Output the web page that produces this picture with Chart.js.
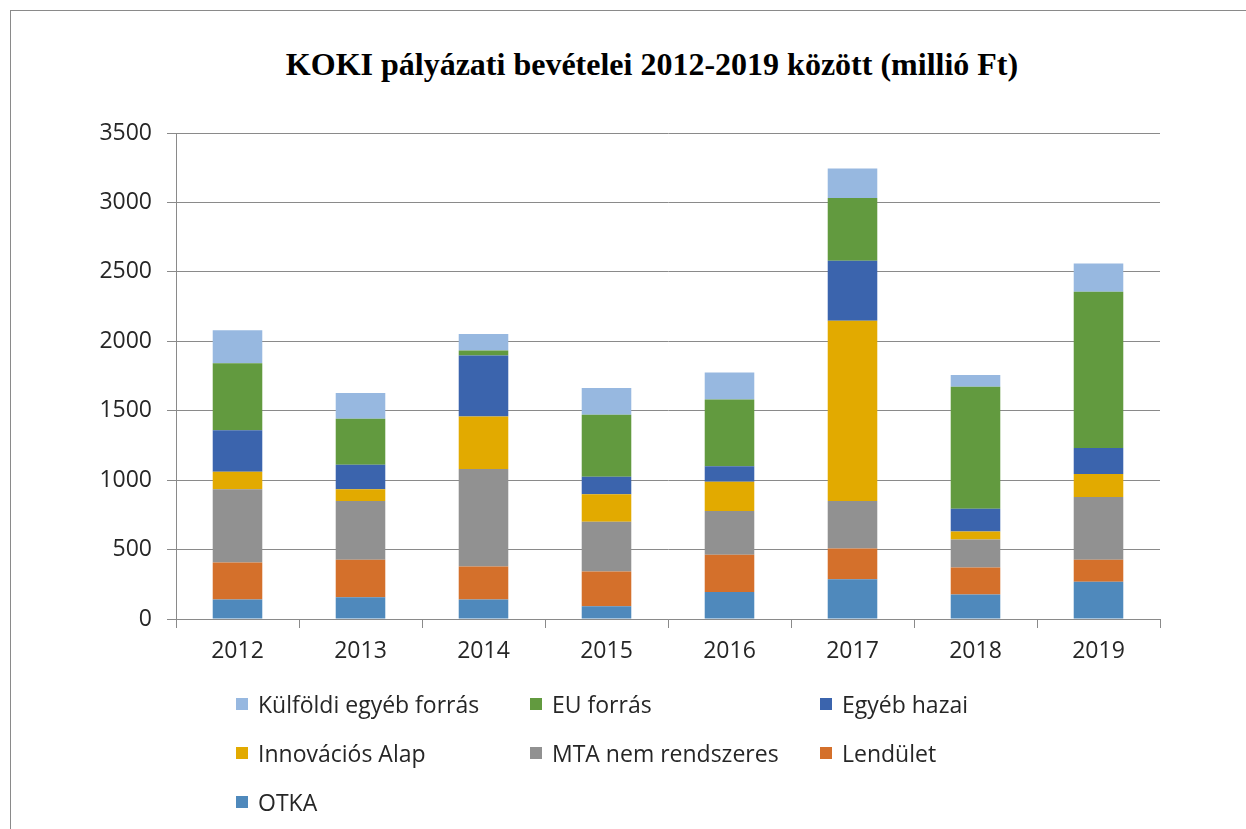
<!DOCTYPE html>
<html>
<head>
<meta charset="utf-8">
<script src="https://cdn.jsdelivr.net/npm/chart.js@4"></script>
<style>
  html, body { margin: 0; padding: 0; background: #fff; overflow: hidden; }
  #page { position: relative; width: 1246px; height: 829px; }
  #frame { position: absolute; left: 10px; top: 10px; width: 1236px; height: 819px;
           border-top: 1px solid #8a8a8a; border-left: 1px solid #8a8a8a; box-sizing: border-box; }
  #title { position: absolute; left: 152px; width: 1000px; top: 48px; text-align: center;
           font: bold 32px "Liberation Serif", serif; line-height: 32px; color: #000; white-space: nowrap; }
  #wrap { position: absolute; left: 0; top: 0; width: 1246px; height: 829px; }
  #legend { position: absolute; left: 236px; top: 679px; display: grid;
            grid-template-columns: 294px 290px auto; }
  .item { display: flex; align-items: center; height: 49px; line-height: 49px;
          font: 23px "Open Sans", sans-serif; color: #262626; white-space: nowrap; }
  .box { width: 12px; height: 12px; margin-right: 10px; }
</style>
</head>
<body>
<div id="page">
  <div id="frame"></div>
  <div id="title">KOKI pályázati bevételei 2012-2019 között (millió Ft)</div>
  <div id="wrap"><canvas id="chartCanvas"></canvas></div>
  <div id="legend"></div>
</div>
<script>
  const years = ['2012', '2013', '2014', '2015', '2016', '2017', '2018', '2019'];

  const otka        = [140, 157, 140,  92, 195,  286, 176,  269];
  const lendulet    = [267, 269, 238, 250, 267,  222, 195,  157];
  const mta         = [527, 424, 703, 358, 316,  342, 202,  453];
  const innovacios  = [127,  84, 377, 198, 211, 1297,  58,  166];
  const egyebHazai  = [299, 176, 439, 127, 111,  433, 163,  187];
  const euForras    = [481, 332,  36, 446, 481,  452, 879, 1125];
  const kulfoldi    = [239, 185, 120, 192, 195,  213,  84,  204];

  const yTicks = [0, 500, 1000, 1500, 2000, 2500, 3000, 3500];

  const tickFont = { family: 'Open Sans', size: 23 };
  const textColor = '#262626';
  const gridColor = '#8a8a8a';

  const series = [
    { label: 'OTKA', data: otka, color: '#4f89bc' },
    { label: 'Lendület', data: lendulet, color: '#d4702b' },
    { label: 'MTA nem rendszeres', data: mta, color: '#919191' },
    { label: 'Innovációs Alap', data: innovacios, color: '#e2aa00' },
    { label: 'Egyéb hazai', data: egyebHazai, color: '#3b64ad' },
    { label: 'EU forrás', data: euForras, color: '#629a3f' },
    { label: 'Külföldi egyéb forrás', data: kulfoldi, color: '#97b8e0' }
  ];

  const ctx = document.getElementById('chartCanvas').getContext('2d');
  const chart = new Chart(ctx, {
    type: 'bar',
    data: {
      labels: years,
      datasets: series.map(s => ({
        label: s.label,
        data: s.data,
        backgroundColor: s.color,
        borderWidth: 0,
        categoryPercentage: 1,
        barPercentage: 0.403
      }))
    },
    options: {
      responsive: true,
      maintainAspectRatio: false,
      animation: false,
      layout: { padding: { top: 133, right: 86, bottom: 0, left: 0 } },
      plugins: {
        legend: { display: false },
        title: { display: false },
        tooltip: { enabled: false }
      },
      scales: {
        x: {
          stacked: true,
          afterFit: scale => { scale.height = 210; },
          grid: { display: true, drawOnChartArea: false, drawTicks: true, tickLength: 9, color: gridColor, offset: true },
          border: { color: gridColor },
          ticks: { font: tickFont, color: textColor, padding: 10 }
        },
        y: {
          stacked: true,
          min: 0,
          max: 3500,
          afterFit: scale => { scale.width = 176; },
          afterBuildTicks: scale => { scale.ticks = yTicks.map(v => ({ value: v })); },
          grid: { color: gridColor, tickLength: 9 },
          border: { color: gridColor },
          ticks: { font: tickFont, color: textColor, padding: 15, callback: v => String(v) }
        }
      }
    }
  });

  // legend: same order as Excel, top of stack first
  const legend = document.getElementById('legend');
  chart.data.datasets.slice().reverse().forEach(ds => {
    const item = document.createElement('div');
    item.className = 'item';
    item.innerHTML = `<span class="box" style="background:${ds.backgroundColor}"></span><span>${ds.label}</span>`;
    legend.appendChild(item);
  });
</script>
</body>
</html>
